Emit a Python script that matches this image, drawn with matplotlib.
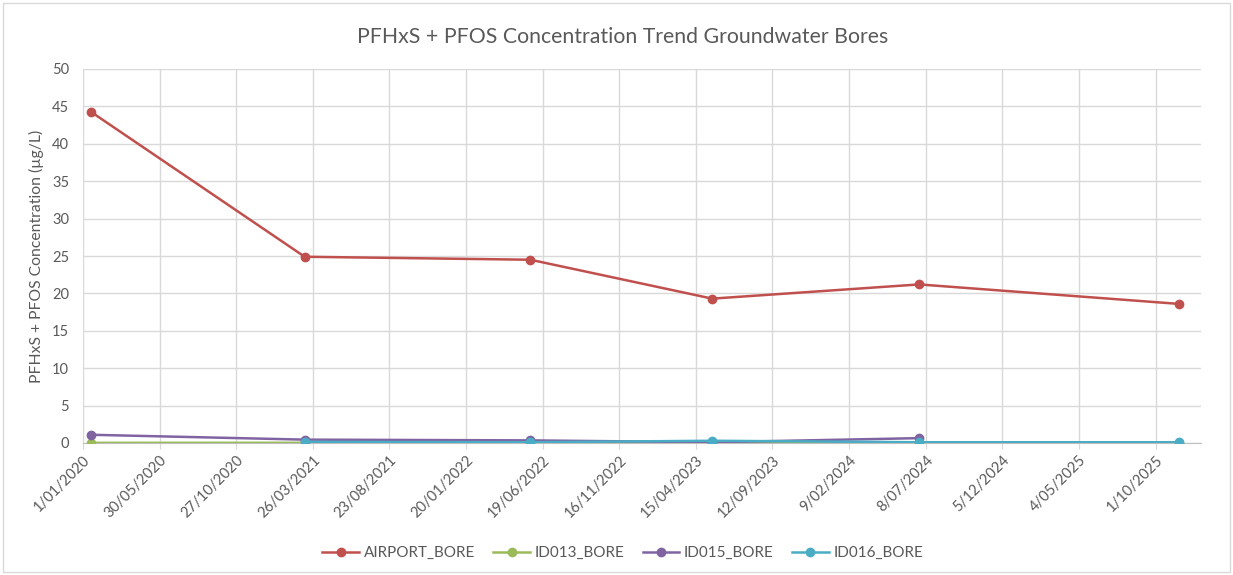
import datetime as dt
import numpy as np
import matplotlib
matplotlib.use("Agg")
import matplotlib.pyplot as plt
import matplotlib.dates as mdates
from matplotlib.patches import Rectangle

plt.rcParams['font.family'] = ['Lato', 'DejaVu Sans']

# Sampling dates and PFHxS + PFOS results (µg/L)
sample_dates = ["2020-01-16", "2021-03-10", "2022-05-26", "2023-05-17", "2024-06-25", "2025-11-15"]
airport_bore = [44.3, 24.9, 24.5, 19.3, 21.2, 18.6]
id013_bore = [0.02, 0.03, 0.03, 0.03, 0.03, 0.03]
id015_bore = [1.1, 0.45, 0.35, 0.1, 0.65, np.nan]
id016_bore = [np.nan, 0.15, 0.1, 0.3, 0.1, 0.1]

series_names = ["AIRPORT_BORE", "ID013_BORE", "ID015_BORE", "ID016_BORE"]
series_colors = ["#C0504D", "#9BBB59", "#8064A2", "#4BACC6"]

title = "PFHxS + PFOS Concentration Trend Groundwater Bores"
y_label = "PFHxS + PFOS Concentration (µg/L)"

axis_start = dt.date(2020, 1, 1)
tick_step_days = 150
n_ticks = 15
axis_end = axis_start + dt.timedelta(days=2189)

dates = [dt.datetime.strptime(s, "%Y-%m-%d").date() for s in sample_dates]

fig = plt.figure(figsize=(12.33, 5.75), dpi=100)
ax = fig.add_axes([83 / 1233, 1 - 443 / 575, (1201 - 83) / 1233, (443 - 69) / 575])

text_col = "#595959"
grid_col = "#D9D9D9"

for name, vals, col in zip(series_names, [airport_bore, id013_bore, id015_bore, id016_bore], series_colors):
    v = np.array(vals, dtype=float)
    mask = ~np.isnan(v)
    d = [dd for dd, m in zip(dates, mask) if m]
    ax.plot(d, v[mask], color=col, lw=1.8, marker="o", ms=6, label=name, zorder=3)

# Axes styling
ticks = [axis_start + dt.timedelta(days=tick_step_days * i) for i in range(n_ticks)]
ax.set_xlim(mdates.date2num(axis_start), mdates.date2num(axis_end))
ax.set_xticks([mdates.date2num(t) for t in ticks])
ax.set_xticklabels([f"{t.day}/{t.month:02d}/{t.year}" for t in ticks],
                   rotation=45, ha="right", rotation_mode="anchor", fontsize=10.5, color=text_col)
ax.set_ylim(0, 50)
ax.set_yticks(range(0, 51, 5))
ax.tick_params(axis="y", length=0, labelsize=10.5, labelcolor=text_col, pad=10)
ax.tick_params(axis="x", length=4, color=grid_col, pad=3)
ax.grid(True, color=grid_col, lw=1)
ax.set_axisbelow(True)
for side in ["top", "right", "left"]:
    ax.spines[side].set_visible(False)
ax.spines["bottom"].set_color("#BFBFBF")

ax.set_ylabel(y_label, fontsize=11.3, color=text_col, labelpad=6)
fig.text(0.505, 1 - 37 / 575, title, ha="center", va="center", fontsize=15.3, color=text_col)

leg = fig.legend(loc="center", bbox_to_anchor=(0.505, 1 - 553 / 575), ncol=4, frameon=False,
                 fontsize=11, handlelength=2.4, columnspacing=1.2, handletextpad=0.3)
for t in leg.get_texts():
    t.set_color(text_col)

# Chart frame
fig.patches.append(Rectangle((3 / 1233, 3 / 575), 1 - 6 / 1233, 1 - 6 / 575, transform=fig.transFigure,
                             fill=False, edgecolor="#D9D9D9", lw=1))

fig.savefig("out.png", dpi=100, facecolor="white")
